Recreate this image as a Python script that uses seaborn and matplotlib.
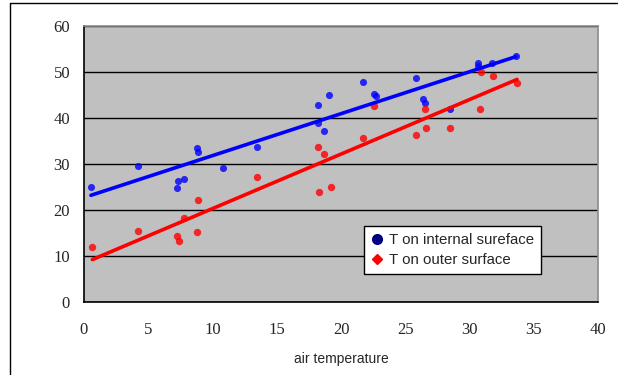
import matplotlib
matplotlib.use("Agg")
import matplotlib.pyplot as plt
import seaborn as sns
import pandas as pd
from matplotlib.lines import Line2D

# Data
inner_x = [0.54, 4.2, 7.2, 7.34, 7.8, 8.8, 8.9, 10.8, 13.5, 18.2, 18.2, 18.7, 19.1,
           21.7, 22.6, 22.7, 25.8, 26.4, 26.5, 28.5, 30.7, 30.7, 31.75, 33.6]
inner_y = [25.0, 29.6, 24.8, 26.4, 26.7, 33.5, 32.7, 29.1, 33.8, 43.0, 38.9, 37.3, 45.1,
           47.9, 45.3, 44.8, 48.8, 44.3, 43.4, 42.0, 52.0, 51.3, 52.1, 53.6]
outer_x = [0.65, 4.2, 7.2, 7.4, 7.8, 8.9, 8.8, 13.5, 18.2, 18.7, 18.3, 19.2,
           21.7, 22.6, 25.8, 26.6, 26.5, 28.5, 30.8, 30.9, 31.8, 33.7]
outer_y = [12.1, 15.5, 14.4, 13.4, 18.3, 22.2, 15.3, 27.3, 33.8, 32.2, 24.0, 25.1,
           35.8, 42.7, 36.4, 37.9, 42.0, 37.8, 42.1, 50.1, 49.2, 47.7]
series_labels = ["T on internal sureface", "T on outer surface"]
x_ticks = [0, 5, 10, 15, 20, 25, 30, 35, 40]
y_ticks = [0, 10, 20, 30, 40, 50, 60]

sns.set_style("white")
plt.rcParams['font.family'] = ['Liberation Sans', 'DejaVu Sans']

fig = plt.figure(figsize=(6.18, 3.75), dpi=100)
ax = fig.add_axes([84/618, 1-302.3/375, (598-84)/618, (302.3-26.3)/375])
ax.set_facecolor("#C0C0C0")

df_in = pd.DataFrame({"x": inner_x, "y": inner_y})
df_out = pd.DataFrame({"x": outer_x, "y": outer_y})

sns.regplot(data=df_in, x="x", y="y", ax=ax, ci=None, truncate=True,
            scatter_kws=dict(s=26, color="#0000FF", marker="o", linewidths=0, zorder=3),
            line_kws=dict(color="#0000FF", lw=2.6, zorder=4))
sns.regplot(data=df_out, x="x", y="y", ax=ax, ci=None, truncate=True,
            scatter_kws=dict(s=28, color="#FF0000", marker="D", linewidths=0, zorder=3),
            line_kws=dict(color="#FF0000", lw=2.6, zorder=4))

ax.set_xlim(0, 40)
ax.set_ylim(0, 60)
ax.set_xticks(x_ticks)
ax.set_yticks(y_ticks)
ax.set_xticklabels([str(t) for t in x_ticks], family="Liberation Serif", fontsize=12)
ax.set_yticklabels([str(t) for t in y_ticks], family="Liberation Serif", fontsize=12)
ax.yaxis.grid(True, color="black", lw=1.0)
ax.set_axisbelow(True)
ax.tick_params(axis="x", direction="in", length=4, width=1, color="black", pad=14)
ax.tick_params(axis="y", length=0, pad=10)
ax.set_xlabel("air temperature", fontsize=10, labelpad=10)
ax.set_ylabel("")

for side in ["left", "bottom"]:
    ax.spines[side].set_color("black")
    ax.spines[side].set_linewidth(1.2)
for side in ["top", "right"]:
    ax.spines[side].set_color("#8C8C8C")
    ax.spines[side].set_linewidth(1.2)

handles = [
    Line2D([], [], marker="o", color="#000080", linestyle="none", markersize=7),
    Line2D([], [], marker="D", color="#FF0000", linestyle="none", markersize=5.5),
]
leg = ax.legend(handles, series_labels, loc="upper left",
                bbox_to_anchor=((364-84)/514, (302.3-226)/276), fontsize=10.8,
                frameon=True, fancybox=False, framealpha=1, edgecolor="black",
                handlelength=0.8, handletextpad=0.4, borderpad=0.45, labelspacing=0.4,
                borderaxespad=0)
leg.get_frame().set_linewidth(1.0)

# Outer chart frame
fig.add_artist(plt.Line2D([10/618, 10/618], [0, 1-3/375], color="black", lw=1.0,
                          transform=fig.transFigure))
fig.add_artist(plt.Line2D([10/618, 1], [1-3/375, 1-3/375], color="black", lw=1.0,
                          transform=fig.transFigure))

fig.savefig("out.png", dpi=100)
